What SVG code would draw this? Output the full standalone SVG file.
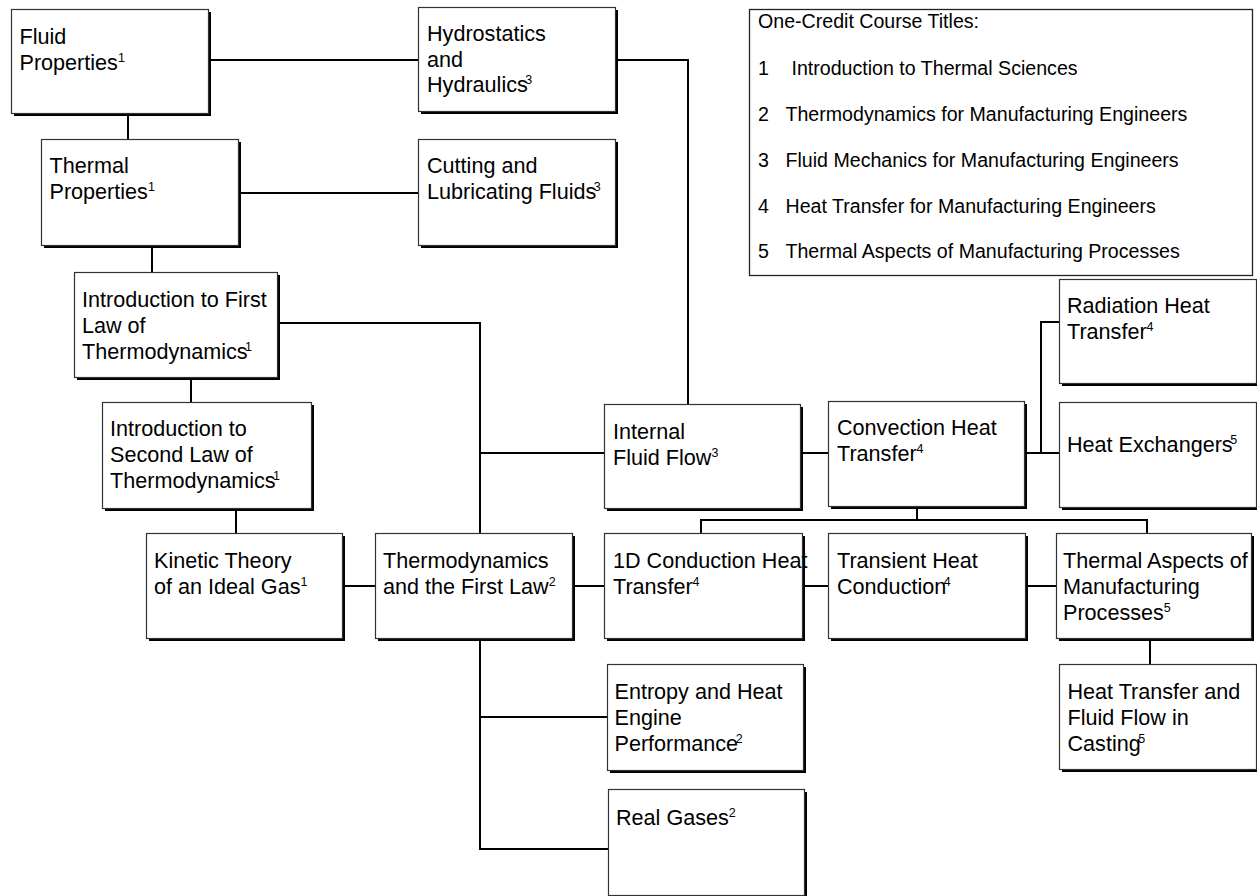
<svg xmlns="http://www.w3.org/2000/svg" width="1257" height="896" viewBox="0 0 1257 896">
<style>
.bg{fill:#fff}
.sh{fill:#000}
.bx{fill:#fff;stroke:#333;stroke-width:1.2}
.t{font-family:"Liberation Sans",Arial,sans-serif;font-size:21.6px;fill:#000}
.lg{font-family:"Liberation Sans",Arial,sans-serif;font-size:19.6px;fill:#000}
.sup{font-size:12.5px}
.c{fill:none;stroke:#000;stroke-width:2}
.leg{fill:#fff;stroke:#222;stroke-width:1.3}
</style>
<rect class="bg" x="0" y="0" width="1257" height="896"/>

<g id="connectors">
<path class="c" d="M208,60 H418"/>
<path class="c" d="M128,113 V139"/>
<path class="c" d="M238,193 H418"/>
<path class="c" d="M152,245 V272"/>
<path class="c" d="M191,377 V402"/>
<path class="c" d="M236,508 V533"/>
<path class="c" d="M277,323 H480 V533"/>
<path class="c" d="M480,453 H604"/>
<path class="c" d="M342,586 H375"/>
<path class="c" d="M572,586 H604"/>
<path class="c" d="M802,586 H828"/>
<path class="c" d="M1025,586 H1056"/>
<path class="c" d="M480,638 V849 H608"/>
<path class="c" d="M480,717 H607"/>
<path class="c" d="M615,60 H688 V404"/>
<path class="c" d="M800,453 H828"/>
<path class="c" d="M1024,453 H1059"/>
<path class="c" d="M1041,453 V322 H1059"/>
<path class="c" d="M917,506 V520"/>
<path class="c" d="M701,533 V520 H1147 V533"/>
<path class="c" d="M1150,638 V664"/>
</g>

<g id="legend">
<rect class="leg" x="749.5" y="9.5" width="503" height="266"/>
<text class="lg" x="758" y="28">One-Credit Course Titles:</text>
<text class="lg" x="758" y="75">1</text><text class="lg" x="791.5" y="75">Introduction to Thermal Sciences</text>
<text class="lg" x="758" y="121">2</text><text class="lg" x="785.5" y="121">Thermodynamics for Manufacturing Engineers</text>
<text class="lg" x="758" y="167">3</text><text class="lg" x="785.5" y="167">Fluid Mechanics for Manufacturing Engineers</text>
<text class="lg" x="758" y="213">4</text><text class="lg" x="785.5" y="213">Heat Transfer for Manufacturing Engineers</text>
<text class="lg" x="758" y="258">5</text><text class="lg" x="785.5" y="258">Thermal Aspects of Manufacturing Processes</text>
</g>

<g id="fluid-properties">
<rect class="sh" x="14" y="12" width="197" height="104"/>
<rect class="bx" x="11.5" y="9.5" width="197" height="104"/>
<text class="t" x="19.5" y="44">Fluid</text>
<text class="t" x="19.5" y="70">Properties<tspan class="sup" dy="-8">1</tspan></text>
</g>

<g id="thermal-properties">
<rect class="sh" x="44" y="142" width="197" height="106"/>
<rect class="bx" x="41.5" y="139.5" width="197" height="106"/>
<text class="t" x="49.5" y="173">Thermal</text>
<text class="t" x="49.5" y="199">Properties<tspan class="sup" dy="-8">1</tspan></text>
</g>

<g id="hydrostatics">
<rect class="sh" x="421" y="10" width="197" height="104"/>
<rect class="bx" x="418.5" y="7.5" width="197" height="104"/>
<text class="t" x="427" y="41">Hydrostatics</text>
<text class="t" x="427" y="67">and</text>
<text class="t" x="427" y="92">Hydraulics<tspan class="sup" dx="-2.5" dy="-8">3</tspan></text>
</g>

<g id="cutting-fluids">
<rect class="sh" x="421" y="142" width="197" height="106"/>
<rect class="bx" x="418.5" y="139.5" width="197" height="106"/>
<text class="t" x="427" y="173">Cutting and</text>
<text class="t" x="427" y="199">Lubricating Fluids<tspan class="sup" dx="-2.5" dy="-8">3</tspan></text>
</g>

<g id="intro-first-law">
<rect class="sh" x="77" y="275" width="203" height="105"/>
<rect class="bx" x="74.5" y="272.5" width="203" height="105"/>
<text class="t" x="82" y="307">Introduction to First</text>
<text class="t" x="82" y="333">Law of</text>
<text class="t" x="82" y="359">Thermodynamics<tspan class="sup" dx="-2.5" dy="-8">1</tspan></text>
</g>

<g id="intro-second-law">
<rect class="sh" x="105" y="405" width="209" height="106"/>
<rect class="bx" x="102.5" y="402.5" width="209" height="106"/>
<text class="t" x="110" y="436">Introduction to</text>
<text class="t" x="110" y="462">Second Law of</text>
<text class="t" x="110" y="488">Thermodynamics<tspan class="sup" dx="-2.5" dy="-8">1</tspan></text>
</g>

<g id="kinetic-theory">
<rect class="sh" x="149" y="536" width="196" height="105"/>
<rect class="bx" x="146.5" y="533.5" width="196" height="105"/>
<text class="t" x="154" y="568">Kinetic Theory</text>
<text class="t" x="154" y="594">of an Ideal Gas<tspan class="sup" dy="-8">1</tspan></text>
</g>

<g id="thermo-first-law">
<rect class="sh" x="378" y="536" width="197" height="105"/>
<rect class="bx" x="375.5" y="533.5" width="197" height="105"/>
<text class="t" x="383" y="568">Thermodynamics</text>
<text class="t" x="383" y="594">and the First Law<tspan class="sup" dy="-8">2</tspan></text>
</g>

<g id="internal-fluid-flow">
<rect class="sh" x="607" y="407" width="196" height="104"/>
<rect class="bx" x="604.5" y="404.5" width="196" height="104"/>
<text class="t" x="613" y="439">Internal</text>
<text class="t" x="613" y="465">Fluid Flow<tspan class="sup" dy="-8">3</tspan></text>
</g>

<g id="convection">
<rect class="sh" x="831" y="404" width="196" height="105"/>
<rect class="bx" x="828.5" y="401.5" width="196" height="105"/>
<text class="t" x="837" y="435">Convection Heat</text>
<text class="t" x="837" y="461">Transfer<tspan class="sup" dy="-8">4</tspan></text>
</g>

<g id="radiation">
<rect class="sh" x="1062" y="282" width="197" height="104"/>
<rect class="bx" x="1059.5" y="279.5" width="197" height="104"/>
<text class="t" x="1067" y="313">Radiation Heat</text>
<text class="t" x="1067" y="339">Transfer<tspan class="sup" dy="-8">4</tspan></text>
</g>

<g id="heat-exchangers">
<rect class="sh" x="1062" y="405" width="197" height="105"/>
<rect class="bx" x="1059.5" y="402.5" width="197" height="105"/>
<text class="t" x="1067" y="452">Heat Exchangers<tspan class="sup" dx="-2.5" dy="-8">5</tspan></text>
</g>

<g id="conduction-1d">
<rect class="sh" x="607" y="536" width="198" height="105"/>
<rect class="bx" x="604.5" y="533.5" width="198" height="105"/>
<text class="t" x="613" y="568">1D Conduction Heat</text>
<text class="t" x="613" y="594">Transfer<tspan class="sup" dy="-8">4</tspan></text>
</g>

<g id="transient">
<rect class="sh" x="831" y="536" width="197" height="105"/>
<rect class="bx" x="828.5" y="533.5" width="197" height="105"/>
<text class="t" x="837" y="568">Transient Heat</text>
<text class="t" x="837" y="594">Conduction<tspan class="sup" dx="-2.5" dy="-8">4</tspan></text>
</g>

<g id="thermal-aspects">
<rect class="sh" x="1059" y="536" width="195" height="105"/>
<rect class="bx" x="1056.5" y="533.5" width="195" height="105"/>
<text class="t" x="1063" y="568">Thermal Aspects of</text>
<text class="t" x="1063" y="594">Manufacturing</text>
<text class="t" x="1063" y="620">Processes<tspan class="sup" dy="-8">5</tspan></text>
</g>

<g id="casting">
<rect class="sh" x="1062" y="667" width="197" height="105"/>
<rect class="bx" x="1059.5" y="664.5" width="197" height="105"/>
<text class="t" x="1067.5" y="699">Heat Transfer and</text>
<text class="t" x="1067.5" y="725">Fluid Flow in</text>
<text class="t" x="1067.5" y="751">Casting<tspan class="sup" dx="-2.5" dy="-8">5</tspan></text>
</g>

<g id="entropy">
<rect class="sh" x="610" y="667" width="196" height="106"/>
<rect class="bx" x="607.5" y="664.5" width="196" height="106"/>
<text class="t" x="614.5" y="699">Entropy and Heat</text>
<text class="t" x="614.5" y="725">Engine</text>
<text class="t" x="614.5" y="751">Performance<tspan class="sup" dx="-2.5" dy="-8">2</tspan></text>
</g>

<g id="real-gases">
<rect class="sh" x="611" y="792" width="196" height="106"/>
<rect class="bx" x="608.5" y="789.5" width="196" height="106"/>
<text class="t" x="616" y="825">Real Gases<tspan class="sup" dy="-8">2</tspan></text>
</g>
</svg>
